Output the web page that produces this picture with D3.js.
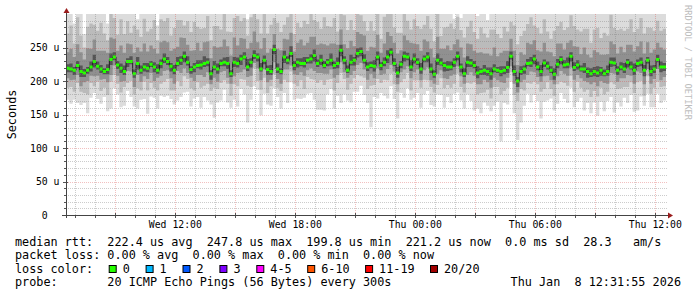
<!DOCTYPE html>
<html>
<head>
<meta charset="utf-8">
<script src="https://cdn.jsdelivr.net/npm/d3@7"></script>
<style>
  html, body { margin: 0; padding: 0; background: #fff; }
  svg { display: block; font-family: "DejaVu Sans Mono", monospace; }
  text { white-space: pre; }
</style>
</head>
<body>
<svg id="chart" width="697" height="297"></svg>
<script>
// 30 hours ending Thu Jan 8 12:31:55 2026, one column per 10 minutes (us)
var startTime = new Date(2026, 0, 7, 6, 31, 55);
var endTime = new Date(2026, 0, 8, 12, 31, 55);
var stepMinutes = 10;

var median = [
  219,218,216,223,214,212,216,221,229,222,218,214,217,232,236,224,219,214,229,229,211,226,216,221,219,225,221,216,226,233,229,222,216,226,231,237,228,217,221,223,224,226,228,211,221,
  218,226,228,226,211,228,226,233,236,221,228,238,236,218,231,217,214,247,218,214,236,231,241,223,228,226,226,231,233,238,226,231,223,228,231,223,226,246,231,216,228,231,241,244,231,
  221,223,222,236,223,228,236,243,226,212,225,237,236,221,233,228,218,233,236,218,210,231,227,223,221,221,228,237,221,211,228,227,223,212,214,216,214,211,218,216,214,216,220,237,214,
  200,214,218,226,227,233,221,214,227,222,216,210,225,232,224,225,237,220,224,218,218,214,211,214,212,216,211,214,228,227,216,221,218,228,221,216,226,228,216,231,214,218,232,221,221
];

// smoke: band thickness above (Up) and below (Dn) the median, innermost first
var coreUp = [
  6,8,5,7,9,6,5,8,10,7,6,5,8,9,7, 6,7,9,5,8,6,10,7,6,8,5,7,9,6,8,
  7,5,8,10,6,7,9,5,6,8,7,11,6,5,9, 8,6,7,10,5,8,9,6,7,12,6,8,5,9,7,
  6,10,7,8,5,9,6,11,7,6,8,10,5,7,9, 6,8,7,5,10,6,9,8,6,7,11,5,8,6,9,
  7,6,9,8,5,7,10,6,8,9,5,7,6,10,8, 6,9,5,7,8,6,10,7,5,9,8,6,7,5,8,
  9,6,7,10,5,8,6,9,7,5,8,6,10,7,9, 6,8,5,7,9,6,8,10,5,7,6,9,8,5,7,
  10,6,8,7,5,9,6,8,7,10,5,6,9,7,8, 6,7,9,5,8,10,6,7,8,5,9,6,7,8,6
];
var innerUp = [
  18,22,15,25,20,14,28,19,23,16,21,26,17,24,20, 15,27,19,22,18,25,14,21,29,17,23,20,16,26,19,
  22,18,24,15,28,20,17,23,19,26,14,21,25,18,22, 24,19,27,16,22,29,18,25,20,15,23,28,17,21,26,
  19,24,16,22,27,18,25,20,14,23,28,17,21,26,19, 22,17,25,20,15,27,19,23,18,26,21,16,24,20,28,
  17,22,19,25,14,21,27,18,23,20,16,24,19,26,15, 21,18,24,16,22,19,25,14,20,23,17,21,18,24,16,
  19,22,15,20,24,17,21,18,25,16,20,23,15,19,22, 18,21,16,24,19,22,17,20,25,15,21,18,23,19,16,
  22,18,24,20,17,23,19,16,25,21,18,22,17,24,20, 19,23,16,21,25,18,20,24,17,22,19,23,18,21,20
];
var outerUp = [
  28,35,20,40,25,18,32,38,22,30,42,26,19,36,31, 24,39,28,33,17,41,27,22,37,30,25,43,20,34,29,
  36,23,31,40,26,19,35,28,42,24,33,21,38,27,30, 32,26,40,22,35,29,44,25,31,20,38,27,34,23,41,
  29,36,24,39,27,21,33,42,26,30,18,37,28,35,25, 34,22,40,29,25,38,20,32,43,27,31,24,36,28,21,
  30,38,25,33,21,40,28,35,23,31,26,42,29,20,36, 27,33,22,38,30,24,36,19,32,28,40,23,34,26,30,
  25,35,28,21,37,30,24,39,27,33,22,36,29,25,38, 31,24,36,28,40,22,33,27,35,30,20,38,26,32,29,
  23,37,30,26,34,28,39,22,31,36,25,33,28,40,24, 35,27,32,24,38,29,26,35,30,22,37,28,33,25,31
];
var tailUp = [
  45,60,30,75,50,20,65,40,85,55,35,70,25,60,48, 38,80,52,28,66,44,15,72,58,36,90,47,22,63,54,
  40,68,33,78,50,26,62,45,18,74,56,35,82,49,30, 64,42,70,28,58,80,36,52,66,24,75,46,60,32,70,
  50,38,72,26,64,55,30,80,44,20,68,52,36,74,46, 28,62,50,40,76,22,58,66,34,48,14,70,54,42,60,
  36,72,48,26,64,52,18,12,70,44,58,30,66,50,38, 74,46,20,16,62,54,36,68,44,58,28,15,12,18,60,
  42,70,52,34,64,48,26,72,56,38,66,30,50,62,44, 58,36,74,48,28,66,52,40,70,32,56,62,44,24,68,
  50,38,64,56,30,72,46,60,34,54,66,42,58,28,62, 48,70,36,56,44,64,40,52,68,30,58,46,62,50,40
];
var coreDn = [
  6,5,7,4,8,6,5,7,9,5,6,4,7,8,5, 6,7,5,8,4,6,9,5,7,6,4,8,5,7,6,
  5,8,6,4,7,9,5,6,8,4,7,5,6,9,5, 7,4,6,8,5,7,6,9,4,6,8,5,7,4,6,
  8,5,7,6,4,9,6,5,7,8,4,6,5,7,9, 5,7,4,6,8,5,7,9,6,4,5,8,6,7,5,
  6,4,8,5,7,6,9,5,4,7,6,8,5,6,7, 4,7,5,8,6,5,7,4,9,6,5,7,6,8,5,
  7,6,4,8,5,7,6,9,5,4,7,6,8,5,6, 9,5,7,4,6,8,5,7,6,5,4,8,6,7,5,
  6,8,5,7,4,6,9,5,7,6,8,4,6,7,5, 7,5,6,8,4,7,5,6,9,5,7,6,4,8,6
];
var innerDn = [
  9,12,7,10,14,8,11,6,13,9,10,7,12,15,8, 10,13,9,6,11,14,8,12,7,10,9,13,6,11,12,
  8,10,14,7,12,9,11,6,13,10,8,15,9,7,11, 12,9,7,13,10,14,8,11,15,9,12,6,10,13,8,
  11,7,12,9,14,10,8,13,6,11,9,12,10,7,14, 9,12,8,11,6,13,10,9,12,7,14,8,11,10,9,
  13,8,10,12,7,11,9,14,8,10,6,12,9,11,13, 7,10,12,8,11,9,13,7,10,12,8,11,9,6,10,
  12,8,11,9,14,7,10,12,8,11,9,13,7,10,12, 8,11,9,13,7,12,10,8,14,9,11,7,12,10,8,
  11,9,13,8,10,12,7,11,9,14,8,10,12,9,11, 10,12,8,11,9,13,7,10,12,8,11,9,10,12,9
];
var outerDn = [
  14,10,18,12,8,16,20,11,15,9,17,13,19,10,14, 12,16,9,18,14,11,20,13,8,17,15,10,19,12,16,
  13,18,10,15,20,12,9,16,14,11,19,13,17,10,15, 11,16,14,9,18,12,20,10,15,13,17,8,19,14,12,
  16,10,18,13,11,15,19,9,14,17,12,20,10,16,13, 15,11,17,9,14,19,12,16,10,18,13,11,15,20,12,
  14,18,10,16,12,9,17,13,19,11,15,14,10,18,12, 16,11,14,19,10,13,17,12,15,9,18,14,11,16,13,
  12,17,10,15,13,19,11,16,14,10,18,12,15,9,17, 13,10,16,12,18,14,11,15,19,10,13,17,12,16,14,
  15,12,18,10,14,16,11,19,13,15,10,17,12,14,16, 11,15,13,18,10,14,16,12,17,11,15,13,19,10,14
];
var tailDn = [
  18,25,12,30,20,15,28,22,10,26,19,14,24,40,20, 16,22,28,12,24,18,30,14,26,35,20,15,27,18,23,
  25,13,21,29,16,24,19,27,12,22,30,17,25,20,45, 20,26,14,28,18,23,30,15,22,55,19,27,13,38,24,
  17,29,21,14,26,20,31,16,24,18,28,13,25,21,30, 40,44,38,22,15,27,19,45,23,16,28,20,25,14,26,
  21,62,18,29,15,24,27,19,22,40,16,28,23,14,26, 19,30,22,16,27,21,14,25,29,18,23,15,28,20,24,
  17,26,42,21,30,15,24,19,28,22,70,18,25,14,27, 58,50,23,16,28,20,25,40,19,27,14,22,29,17,24,
  26,18,23,30,15,28,20,24,17,29,21,25,14,22,42, 20,27,16,24,19,28,42,23,15,26,20,29,18,24,21
];

var yTicks = [0, 50, 100, 150, 200, 250];
var yTickLabels = ["0  ", "50 u", "100 u", "150 u", "200 u", "250 u"];

var lossLabels = ["0", "1", "2", "3", "4-5", "6-10", "11-19", "20/20"];
var lossColors = ["#26ff00", "#00b8ff", "#0059ff", "#7e00ff", "#ff00ff", "#ff5500", "#ff0000", "#a10000"];

var legendLines = [
  "median rtt:  222.4 us avg  247.8 us max  199.8 us min  221.2 us now  0.0 ms sd  28.3   am/s",
  "packet loss: 0.00 % avg  0.00 % max  0.00 % min  0.00 % now",
  "loss color:",
  "probe:       20 ICMP Echo Pings (56 Bytes) every 300s"
];
var stampText = "Thu Jan  8 12:31:55 2026";

var svg = d3.select("#chart");
var plotL = 66, plotR = 666, plotT = 14, plotB = 215;

var x = d3.scaleTime().domain([startTime, endTime]).range([plotL, plotR]);
var y = d3.scaleLinear().domain([0, 300]).range([plotB, plotT]);

var rows = median.map(function(m, i) {
  return {
    t: d3.timeMinute.offset(startTime, i * stepMinutes), m: m,
    cU: coreUp[i], iU: innerUp[i], oU: outerUp[i], tU: tailUp[i],
    cD: coreDn[i], iD: innerDn[i], oD: outerDn[i], tD: tailDn[i]
  };
});
// close the last step at the graph end
rows.push(Object.assign({}, rows[rows.length - 1], {t: endTime}));

svg.append("clipPath").attr("id", "plot")
  .append("rect").attr("x", plotL).attr("y", plotT)
  .attr("width", plotR - plotL).attr("height", plotB - plotT);

var g = svg.append("g").attr("clip-path", "url(#plot)");

// smoke, outermost (lightest) first
var bands = [
  {color: "#dcdcdc", lo: function(d) { return d.m - d.cD - d.iD - d.oD - d.tD; },
                     hi: function(d) { return d.m + d.cU + d.iU + d.oU + d.tU; }},
  {color: "#bbbbbb", lo: function(d) { return d.m - d.cD - d.iD - d.oD; },
                     hi: function(d) { return d.m + d.cU + d.iU + d.oU; }},
  {color: "#909090", lo: function(d) { return d.m - d.cD - d.iD; },
                     hi: function(d) { return d.m + d.cU + d.iU; }},
  {color: "#555555", lo: function(d) { return d.m - d.cD; },
                     hi: function(d) { return d.m + d.cU; }}
];

bands.forEach(function(b) {
  g.append("path")
    .datum(rows)
    .attr("fill", b.color)
    .attr("d", d3.area()
      .curve(d3.curveStepAfter)
      .x(function(d) { return x(d.t); })
      .y0(function(d) { return y(b.lo(d)); })
      .y1(function(d) { return y(b.hi(d)); }));
});

// median: dark connecting line + loss coloured band
g.append("path")
  .datum(rows)
  .attr("fill", "none")
  .attr("stroke", "#202020")
  .attr("stroke-width", 1)
  .attr("d", d3.line().curve(d3.curveStepAfter)
    .x(function(d) { return x(d.t); })
    .y(function(d) { return y(d.m); }));

g.append("path")
  .datum(rows)
  .attr("fill", lossColors[0])
  .attr("d", d3.area().curve(d3.curveStepAfter)
    .x(function(d) { return x(d.t); })
    .y0(function(d) { return y(d.m) + 1.5; })
    .y1(function(d) { return y(d.m) - 1.5; }));

// grid on top of the graph
var grid = svg.append("g");
var minorCol = "rgba(120,120,120,0.38)", majorCol = "rgba(215,60,60,0.32)";

x.ticks(d3.timeHour.every(1)).forEach(function(t) {
  var px = Math.round(x(t)) + 0.5;
  var major = t.getHours() % 3 === 0;
  grid.append("line")
    .attr("x1", px).attr("x2", px).attr("y1", plotT).attr("y2", plotB)
    .attr("stroke", major ? majorCol : minorCol)
    .attr("stroke-dasharray", "1,1");
  grid.append("line")
    .attr("x1", px).attr("x2", px)
    .attr("y1", major ? plotB - 2 : plotB).attr("y2", plotB + 3)
    .attr("stroke", "#555");
});

y.ticks(30).filter(function(v) { return v > 0 && v < 300; }).forEach(function(v) {
  var py = Math.round(y(v)) + 0.5;
  var major = v % 50 === 0;
  grid.append("line")
    .attr("x1", plotL).attr("x2", plotR + 2).attr("y1", py).attr("y2", py)
    .attr("stroke", major ? majorCol : minorCol)
    .attr("stroke-dasharray", "1,1");
  grid.append("line")
    .attr("x1", major ? plotL - 3 : plotL - 2).attr("x2", major ? plotL + 2 : plotL)
    .attr("y1", py).attr("y2", py)
    .attr("stroke", "#555");
});

// axes
svg.append("line")
  .attr("x1", plotL + 0.5).attr("x2", plotL + 0.5).attr("y1", plotB + 3).attr("y2", plotT - 2)
  .attr("stroke", "#444");
svg.append("line")
  .attr("x1", plotL - 4).attr("x2", plotR + 3).attr("y1", plotB + 0.5).attr("y2", plotB + 0.5)
  .attr("stroke", "#444");
svg.append("path")
  .attr("d", "M" + (plotL - 2.5) + "," + (plotT - 1) + "L" + (plotL + 3.5) + "," + (plotT - 1) + "L" + (plotL + 0.5) + "," + (plotT - 6) + "Z")
  .attr("fill", "#9a1c1c");
svg.append("path")
  .attr("d", "M" + (plotR + 2) + "," + (plotB - 2.5) + "L" + (plotR + 2) + "," + (plotB + 3.5) + "L" + (plotR + 7) + "," + (plotB + 0.5) + "Z")
  .attr("fill", "#9a1c1c");

// tick labels
var fmt = d3.timeFormat("%a %H:%M");
x.ticks(d3.timeHour.every(6)).forEach(function(t) {
  svg.append("text")
    .attr("x", x(t)).attr("y", 227.5)
    .attr("text-anchor", "middle")
    .style("font-size", "9.8px")
    .attr("fill", "#000")
    .text(fmt(t));
});

yTicks.forEach(function(v, i) {
  svg.append("text")
    .attr("x", 59.5).attr("y", y(v) + 3.5)
    .attr("text-anchor", "end")
    .attr("xml:space", "preserve")
    .style("font-size", "9.8px")
    .attr("fill", "#000")
    .text(yTickLabels[i]);
});

// axis title and watermark
svg.append("text")
  .attr("transform", "translate(15.5," + ((plotT + plotB) / 2) + ") rotate(-90)")
  .attr("text-anchor", "middle")
  .style("font-size", "11.8px")
  .text("Seconds");

svg.append("text")
  .attr("transform", "translate(685,5) rotate(90)")
  .style("font-size", "8.7px")
  .attr("fill", "#bdbdbd")
  .text("RRDTOOL / TOBI OETIKER");

// legend
var lineY = [245.5, 259, 272.5, 286];
legendLines.forEach(function(s, i) {
  svg.append("text")
    .attr("x", 15).attr("y", lineY[i])
    .attr("xml:space", "preserve")
    .style("font-size", "11.8px")
    .text(s);
});

var boxX = 108.7;
lossLabels.forEach(function(lab, i) {
  svg.append("rect")
    .attr("x", boxX + 0.5).attr("y", 265.5)
    .attr("width", 7).attr("height", 7)
    .attr("fill", lossColors[i])
    .attr("stroke", "#000");
  svg.append("text")
    .attr("x", boxX + 14).attr("y", lineY[2])
    .style("font-size", "11.8px")
    .text(lab);
  boxX += 29.9 + 7.0 * lab.length;
});

svg.append("text")
  .attr("x", 681).attr("y", lineY[3])
  .attr("text-anchor", "end")
  .attr("xml:space", "preserve")
  .style("font-size", "11.8px")
  .text(stampText);
</script>
</body>
</html>
